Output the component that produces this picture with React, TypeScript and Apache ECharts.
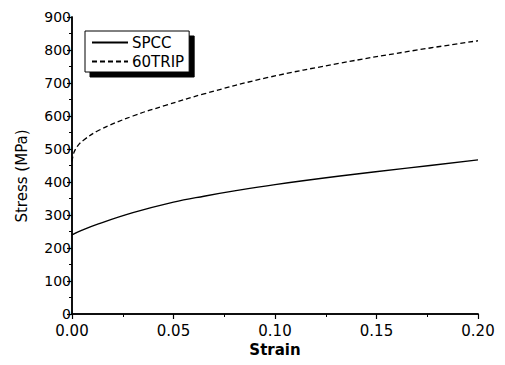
import React, { useEffect, useRef } from "react";
import * as echarts from "echarts";

const spccStrain = [0, 0.005, 0.013, 0.03, 0.05, 0.065, 0.08, 0.1, 0.132, 0.165, 0.2];
const spccStress = [240, 254, 273, 307, 339, 357, 373, 392, 418, 442, 467];

const tripStrain = [0, 0.001, 0.003, 0.0055, 0.013, 0.03, 0.046, 0.065, 0.096, 0.132, 0.165, 0.2];
const tripStress = [462, 490, 511, 526, 556, 600, 632, 667, 716, 760, 795, 828];

const seriesNames = ["SPCC", "60TRIP"];
const xLabel = "Strain";
const yLabel = "Stress (MPa)";

const FONT = "DejaVu Sans";

export default function App() {
  const ref = useRef<HTMLDivElement>(null);
  useEffect(() => {
    if (!ref.current) return;
    const chart = echarts.init(ref.current, null, { renderer: "svg" });
    const axisLine = { show: true, lineStyle: { color: "#000", width: 1.5 } };
    chart.setOption({
      animation: false,
      backgroundColor: "#fff",
      grid: { left: 72, right: 27, top: 17, bottom: 51 },
      legend: {
        orient: "vertical",
        left: 85,
        top: 31,
        data: seriesNames,
        itemWidth: 36,
        itemHeight: 10,
        itemGap: 4,
        padding: [4, 5, 3, 6],
        backgroundColor: "#fff",
        borderColor: "#000",
        borderWidth: 1,
        shadowColor: "#000",
        shadowOffsetX: 5,
        shadowOffsetY: 5,
        shadowBlur: 0,
        itemStyle: { color: "transparent", borderWidth: 0, opacity: 0 },
        textStyle: { fontFamily: FONT, fontSize: 15, color: "#000", padding: [0, 0, 0, -1] },
      },
      graphic: [
        {
          type: "text",
          x: 22,
          y: 176,
          rotation: Math.PI / 2,
          style: {
            text: yLabel,
            fontFamily: FONT,
            fontSize: 15,
            fill: "#000",
            align: "center",
            verticalAlign: "middle",
          },
        },
      ],
      xAxis: [
        {
          type: "value",
          min: 0,
          max: 0.2,
          interval: 0.05,
          name: xLabel,
          nameLocation: "middle",
          nameGap: 27,
          nameTextStyle: { fontFamily: FONT, fontSize: 15, fontWeight: "bold", color: "#000" },
          axisLine,
          axisTick: { show: true, inside: false, length: 5, lineStyle: { color: "#000", width: 1.2 } },
          minorTick: { show: true, splitNumber: 2, length: 3, lineStyle: { color: "#000", width: 1 } },
          axisLabel: {
            fontFamily: FONT,
            fontSize: 15,
            color: "#000",
            margin: 9,
            formatter: (v: number) => v.toFixed(2),
          },
          splitLine: { show: false },
        },
        {
          type: "value",
          position: "top",
          min: 0,
          max: 0.2,
          axisLine,
          axisTick: { show: false },
          axisLabel: { show: false },
          splitLine: { show: false },
        },
      ],
      yAxis: [
        {
          type: "value",
          min: 0,
          max: 900,
          interval: 100,
          axisLine,
          axisTick: { show: true, inside: false, length: 5, lineStyle: { color: "#000", width: 1.2 } },
          minorTick: { show: true, splitNumber: 2, length: 3, lineStyle: { color: "#000", width: 1 } },
          axisLabel: { fontFamily: FONT, fontSize: 14, color: "#000", margin: 1 },
          splitLine: { show: false },
        },
        {
          type: "value",
          position: "right",
          min: 0,
          max: 900,
          axisLine,
          axisTick: { show: false },
          axisLabel: { show: false },
          splitLine: { show: false },
        },
      ],
      series: [
        {
          name: seriesNames[0],
          type: "line",
          showSymbol: false,
          symbol: "none",
          smooth: 0.4,
          lineStyle: { color: "#000", width: 1.4, type: "solid" },
          itemStyle: { color: "#000" },
          data: spccStrain.map((x, i) => [x, spccStress[i]]),
        },
        {
          name: seriesNames[1],
          type: "line",
          showSymbol: false,
          symbol: "none",
          smooth: 0.4,
          lineStyle: { color: "#000", width: 1.3, type: [5, 3] },
          itemStyle: { color: "#000" },
          data: tripStrain.map((x, i) => [x, tripStress[i]]),
        },
      ],
    });
    return () => chart.dispose();
  }, []);
  return <div ref={ref} style={{ width: 505, height: 365, position: "absolute", left: 0, top: 0 }} />;
}
